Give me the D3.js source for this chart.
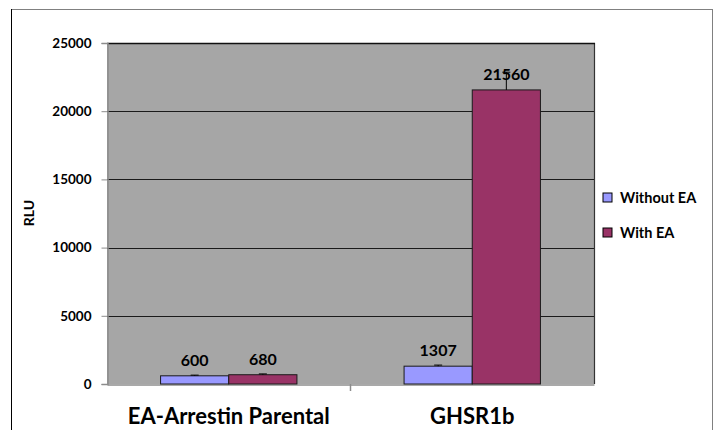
<!DOCTYPE html>
<html><head><meta charset="utf-8">
<script src="https://cdn.jsdelivr.net/npm/d3@7"></script>
<style>body{margin:0;background:#fff}svg{display:block;font-family:Lato,"Open Sans",sans-serif;font-weight:bold}</style>
</head><body><svg id="c" width="717" height="430"></svg>
<script>
const categories = ["EA-Arrestin Parental", "GHSR1b"];
const seriesNames = ["Without EA", "With EA"];
const withoutEA = [600, 1307];
const withEA = [680, 21560];
const withoutEAErr = [50, 80];
const withEAErr = [60, 1300];
const yTicks = [0, 5000, 10000, 15000, 20000, 25000];
const colors = ["#9999FF", "#993366"];

const svg = d3.select("#c");
const m = {left:107, top:43, right:594, bottom:384};
// outer chart border
svg.append("rect").attr("x",11.5).attr("y",9.5).attr("width",701).attr("height",440)
  .attr("fill","#fff").attr("stroke","#808080").attr("stroke-width",1);
svg.append("line").attr("x1",11.5).attr("x2",11.5).attr("y1",9).attr("y2",430).attr("stroke","#000");

const y = d3.scaleLinear().domain([0,25000]).range([m.bottom,m.top]);
const x0 = d3.scaleBand().domain(categories).range([m.left,m.right]).paddingInner(0).paddingOuter(0);
const groupPad = 0.22;
const x1 = d3.scaleBand().domain(seriesNames).range([x0.bandwidth()*groupPad, x0.bandwidth()*(1-groupPad)]);

// plot area
svg.append("rect").attr("x",m.left).attr("y",m.top).attr("width",m.right-m.left).attr("height",m.bottom-m.top)
  .attr("fill","#A6A6A6");
// gridlines
svg.append("g").selectAll("line").data(yTicks.filter(d=>d>0)).join("line")
  .attr("x1",m.left).attr("x2",m.right).attr("y1",d=>Math.round(y(d))+0.5).attr("y2",d=>Math.round(y(d))+0.5)
  .attr("stroke","#1a1a1a").attr("stroke-width",1);
// right border of plot
svg.append("line").attr("x1",m.right+0.5).attr("x2",m.right+0.5).attr("y1",m.top).attr("y2",m.bottom)
  .attr("stroke","#333").attr("stroke-width",1.2);
svg.append("line").attr("x1",m.left).attr("x2",m.right+1).attr("y1",m.top+0.5).attr("y2",m.top+0.5)
  .attr("stroke","#111").attr("stroke-width",1.3);

// y axis
const yAxis = d3.axisLeft(y).tickValues(yTicks).tickSize(6).tickPadding(10).tickFormat(d3.format("d"));
const gy = svg.append("g").attr("transform",`translate(${m.left+0.5},0)`).call(yAxis);
gy.select(".domain").attr("stroke","#8c8c8c").attr("stroke-width",1.5);
gy.selectAll(".tick line").attr("stroke","#8c8c8c");
gy.selectAll(".tick text").attr("font-size",13.5).attr("font-family","Lato").attr("font-weight","bold").attr("fill","#000");

// x axis
const xAxis = d3.axisBottom(x0).tickSize(0).tickPadding(0).tickFormat("");
const gx = svg.append("g").attr("transform",`translate(0,${m.bottom+0.5})`).call(xAxis);
gx.select(".domain").attr("stroke","#8c8c8c").attr("stroke-width",1.5);
// category separator ticks
svg.append("g").selectAll("line").data(categories.slice(1)).join("line")
  .attr("x1",d=>x0(d)).attr("x2",d=>x0(d)).attr("y1",m.bottom).attr("y2",m.bottom+7)
  .attr("stroke","#8c8c8c").attr("stroke-width",1.5);
svg.append("g").selectAll("text").data(categories).join("text")
  .attr("x",d=>x0(d)+x0.bandwidth()/2).attr("y",424).attr("text-anchor","middle")
  .attr("font-size",22).text(d=>d);

// bars
const data = [];
categories.forEach((c,i)=>{
  data.push({cat:c, s:seriesNames[0], v:withoutEA[i], e:withoutEAErr[i], col:colors[0]});
  data.push({cat:c, s:seriesNames[1], v:withEA[i], e:withEAErr[i], col:colors[1]});
});
const g = svg.append("g");
g.selectAll("rect").data(data).join("rect")
  .attr("x",d=>x0(d.cat)+x1(d.s)).attr("width",x1.bandwidth())
  .attr("y",d=>y(d.v)).attr("height",d=>y(0)-y(d.v))
  .attr("fill",d=>d.col).attr("stroke","#1a1a1a").attr("stroke-width",1);
// error bars
const eb = svg.append("g");
eb.selectAll("line.v").data(data).join("line").attr("class","v")
  .attr("x1",d=>x0(d.cat)+x1(d.s)+x1.bandwidth()/2).attr("x2",d=>x0(d.cat)+x1(d.s)+x1.bandwidth()/2)
  .attr("y1",d=>y(d.v)).attr("y2",d=>y(d.v+d.e)).attr("stroke","#000").attr("stroke-width",1);
eb.selectAll("line.c").data(data).join("line").attr("class","c")
  .attr("x1",d=>x0(d.cat)+x1(d.s)+x1.bandwidth()/2-4).attr("x2",d=>x0(d.cat)+x1(d.s)+x1.bandwidth()/2+4)
  .attr("y1",d=>y(d.v+d.e)).attr("y2",d=>y(d.v+d.e)).attr("stroke","#000").attr("stroke-width",1);
// value labels
svg.append("g").selectAll("text").data(data).join("text")
  .attr("x",d=>x0(d.cat)+x1(d.s)+x1.bandwidth()/2).attr("y",d=>y(d.v)-10)
  .attr("text-anchor","middle").attr("font-size",16).text(d=>d.v);

// y label
svg.append("text").attr("transform","translate(34,213) rotate(-90)").attr("text-anchor","middle")
  .attr("font-size",14).text("RLU");

// legend
const lg = svg.append("g").selectAll("g").data(seriesNames).join("g")
  .attr("transform",(d,i)=>`translate(603,${193+i*35})`);
lg.append("rect").attr("width",9).attr("height",9).attr("fill",(d,i)=>colors[i]).attr("stroke","#000").attr("stroke-width",1);
lg.append("text").attr("x",17).attr("y",10).attr("font-size",14.5).text(d=>d);
</script></body></html>
